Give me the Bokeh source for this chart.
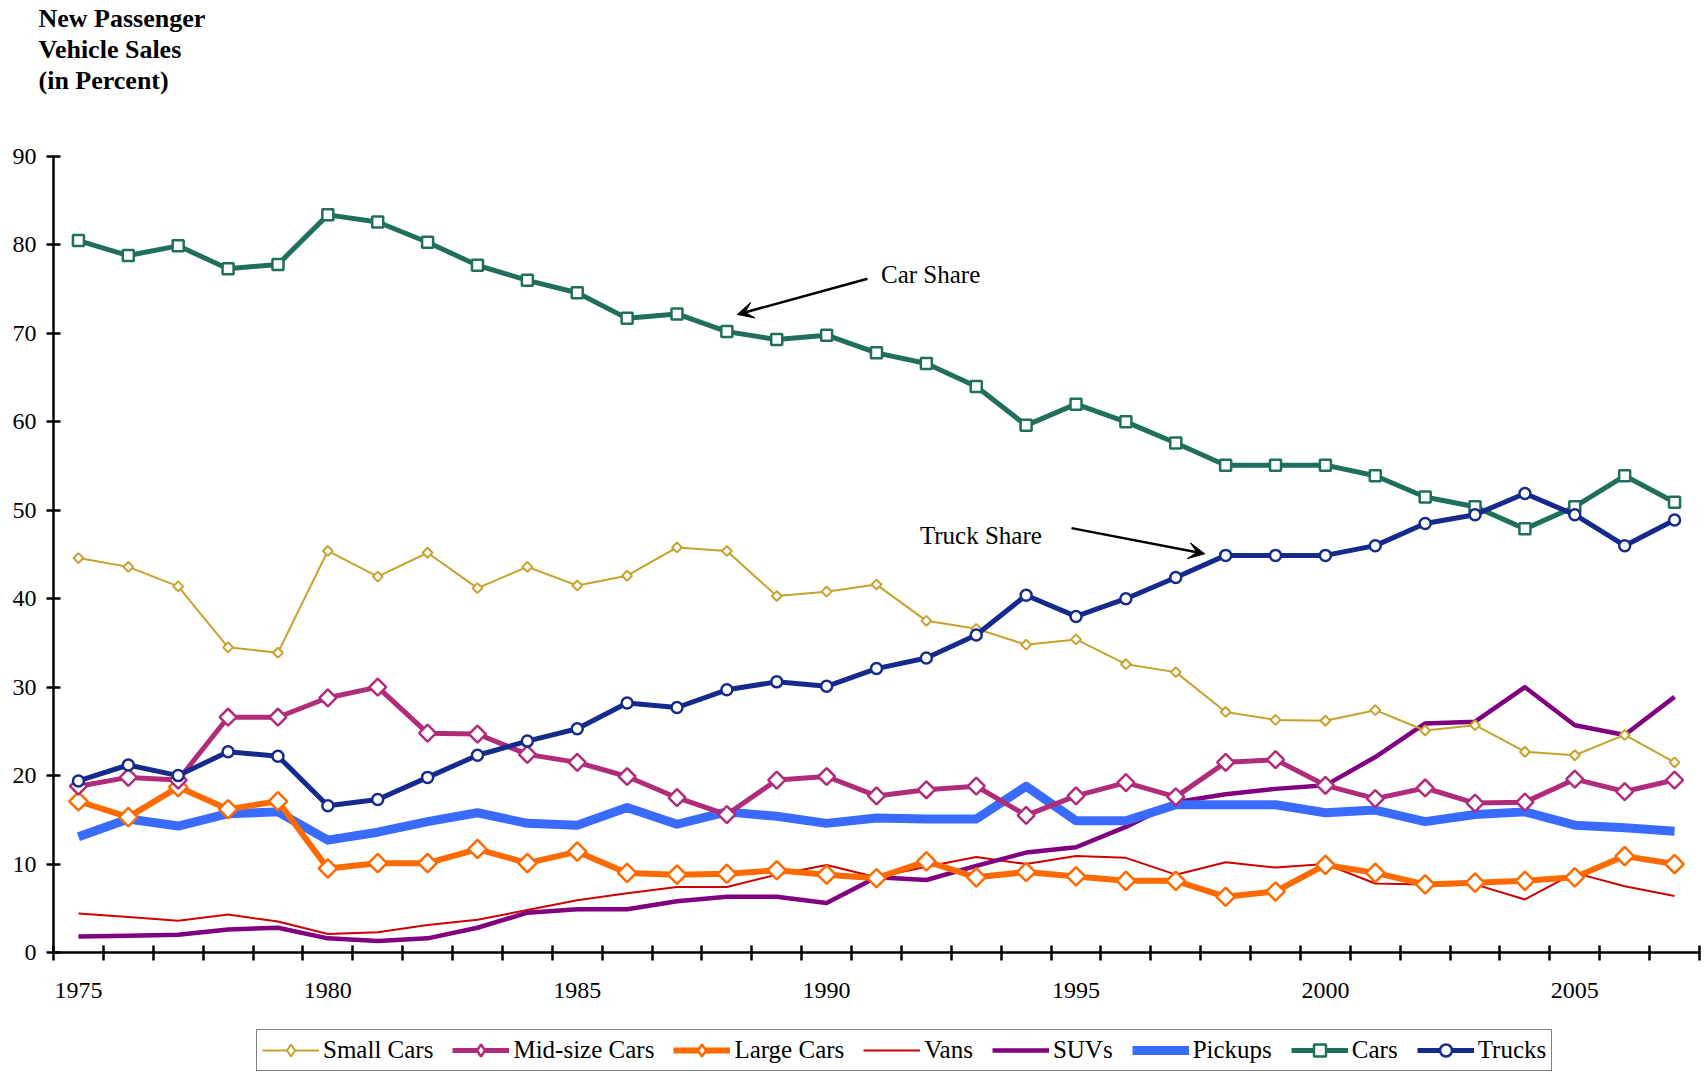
import numpy as np
from bokeh.plotting import figure
from bokeh.layouts import column
from bokeh.models import (FixedTicker, Legend, LegendItem, Label, Arrow, VeeHead, Range1d, Title)
from bokeh.embed import file_html
from bokeh.resources import INLINE

years = list(range(1975, 2008))

small_cars = [44.6, 43.6, 41.4, 34.5, 33.9, 45.4, 42.5, 45.2, 41.2, 43.6, 41.5, 42.6, 45.8, 45.4, 40.3, 40.8,
              41.6, 37.5, 36.6, 34.8, 35.4, 32.6, 31.7, 27.2, 26.3, 26.2, 27.4, 25.1, 25.7, 22.7, 22.3, 24.6, 21.5]
midsize_cars = [18.8, 19.8, 19.5, 26.6, 26.6, 28.8, 30.0, 24.8, 24.7, 22.4, 21.5, 19.9, 17.5, 15.6, 19.5, 19.9,
                17.7, 18.4, 18.8, 15.5, 17.7, 19.2, 17.6, 21.5, 21.8, 18.9, 17.4, 18.6, 16.9, 17.0, 19.6, 18.2, 19.5]
large_cars = [17.1, 15.3, 18.7, 16.2, 17.1, 9.5, 10.1, 10.1, 11.7, 10.1, 11.4, 9.0, 8.8, 8.9, 9.3, 8.8,
              8.4, 10.3, 8.5, 9.1, 8.6, 8.1, 8.1, 6.3, 6.9, 9.9, 9.0, 7.7, 7.9, 8.1, 8.5, 10.9, 10.0]
vans = [4.4, 4.0, 3.6, 4.3, 3.5, 2.1, 2.3, 3.1, 3.7, 4.8, 5.9, 6.7, 7.4, 7.4, 8.8, 9.9,
        8.5, 9.7, 10.8, 10.0, 10.9, 10.7, 8.8, 10.2, 9.6, 10.0, 7.8, 7.7, 7.7, 6.0, 9.0, 7.5, 6.4]
suvs = [1.8, 1.9, 2.0, 2.6, 2.8, 1.6, 1.3, 1.6, 2.8, 4.5, 4.9, 4.9, 5.8, 6.3, 6.3, 5.6,
        8.5, 8.2, 9.8, 11.3, 11.9, 14.2, 17.0, 17.9, 18.5, 18.9, 22.1, 25.9, 26.1, 30.0, 25.7, 24.6, 28.9]
pickups = [13.1, 15.1, 14.3, 15.7, 15.9, 12.7, 13.6, 14.8, 15.8, 14.6, 14.4, 16.4, 14.5, 15.9, 15.4, 14.6,
           15.2, 15.1, 15.1, 18.8, 14.9, 14.9, 16.7, 16.7, 16.7, 15.8, 16.1, 14.8, 15.6, 15.9, 14.4, 14.1, 13.7]
cars = [80.5, 78.8, 79.9, 77.3, 77.8, 83.4, 82.6, 80.3, 77.7, 76.0, 74.6, 71.7, 72.2, 70.2, 69.3, 69.8,
        67.8, 66.6, 64.0, 59.6, 62.0, 60.0, 57.6, 55.1, 55.1, 55.1, 53.9, 51.5, 50.4, 47.9, 50.4, 53.9, 50.9]
trucks = [19.4, 21.2, 20.0, 22.7, 22.2, 16.6, 17.3, 19.8, 22.3, 23.9, 25.3, 28.2, 27.7, 29.7, 30.6, 30.1,
          32.1, 33.3, 35.9, 40.4, 38.0, 40.0, 42.4, 44.9, 44.9, 44.9, 46.0, 48.5, 49.5, 51.9, 49.5, 46.0, 48.9]

label_years = [1975, 1980, 1985, 1990, 1995, 2000, 2005]
y_ticks = [0, 10, 20, 30, 40, 50, 60, 70, 80, 90]
title_text = "New Passenger\nVehicle Sales\n(in Percent)"

SERIF = "Liberation Serif"

p = figure(width=1707, height=1025, output_backend="svg", toolbar_location=None, title=None,
           x_range=Range1d(1974.5, 2007.5), y_range=Range1d(0, 90),
           min_border_left=53, min_border_right=8, min_border_top=156, min_border_bottom=73)
p.outline_line_color = None
p.xgrid.visible = False
p.ygrid.visible = False

# spacer between title block and plot area, then the three-line title
p.add_layout(Title(text="\u00a0", text_font_size="1px", standoff=56, text_color="white"), "above")
p.add_layout(Title(text=title_text, align="left", offset=-15, standoff=4,
                   text_font=SERIF, text_font_size="26px", text_font_style="bold",
                   text_color="black", text_line_height=1.07), "above")

xa = p.xaxis[0]
xa.ticker = FixedTicker(ticks=label_years, minor_ticks=[y - 0.5 for y in years] + [years[-1] + 0.5])
xa.axis_line_width = 2.5
xa.axis_line_color = "black"
xa.major_tick_line_color = None
xa.major_tick_in = 0
xa.major_tick_out = 0
xa.minor_tick_line_color = "black"
xa.minor_tick_line_width = 2.5
xa.minor_tick_in = 7
xa.minor_tick_out = 8
xa.major_label_standoff = 22
xa.major_label_text_font = SERIF
xa.major_label_text_font_size = "24px"
xa.major_label_text_color = "black"

ya = p.yaxis[0]
ya.ticker = FixedTicker(ticks=y_ticks)
ya.axis_line_width = 2.5
ya.axis_line_color = "black"
ya.major_tick_line_color = "black"
ya.major_tick_line_width = 2.5
ya.major_tick_in = 7
ya.major_tick_out = 7
ya.minor_tick_line_color = None
ya.major_label_standoff = 10
ya.major_label_text_font = SERIF
ya.major_label_text_font_size = "24px"
ya.major_label_text_color = "black"

DIAMOND = np.pi / 4

series = [
    # name, values, color, line width, marker, size, angle, legend marker
    ("Vans", vans, "#CC0000", 2, None, 0, 0, None),
    ("SUVs", suvs, "#800080", 4.5, None, 0, 0, None),
    ("Pickups", pickups, "#3A6BFF", 9, None, 0, 0, None),
    ("Large Cars", large_cars, "#FF6A00", 6, "square", 13, DIAMOND, "diamond"),
    ("Mid-size Cars", midsize_cars, "#B02C7A", 5, "square", 12, DIAMOND, "diamond"),
    ("Small Cars", small_cars, "#C8A02C", 2, "square", 7, DIAMOND, "diamond"),
    ("Cars", cars, "#1F6F5C", 5, "square", 11, 0, "square"),
    ("Trucks", trucks, "#142A8C", 5, "circle", 11, 0, "circle"),
]

# legend strip below the chart (its ranges keep the sample series out of view)
p2 = figure(width=1707, height=46, output_backend="svg", toolbar_location=None, title=None,
            x_range=Range1d(0, 1), y_range=Range1d(0, 1), min_border=0)
p2.outline_line_color = None
p2.xgrid.visible = False
p2.ygrid.visible = False
p2.xaxis.visible = False
p2.yaxis.visible = False

legend_renderers = {}
for name, vals, color, lw, marker, size, angle, lmarker in series:
    p.line(years, vals, line_color=color, line_width=lw, line_join="round")
    if marker:
        p.scatter(years, vals, marker=marker, size=size, angle=angle,
                  fill_color="white", line_color=color, line_width=2.5 if lw > 2 else 2)
    rs = [p2.line(years, vals, line_color=color, line_width=lw)]
    if lmarker:
        rs.append(p2.scatter(years, vals, marker=lmarker, size=size, fill_color="white",
                             line_color=color, line_width=2.5 if lw > 2 else 2))
    legend_renderers[name] = rs

legend_order = ["Small Cars", "Mid-size Cars", "Large Cars", "Vans", "SUVs", "Pickups", "Cars", "Trucks"]
legend = Legend(items=[LegendItem(label=n, renderers=legend_renderers[n]) for n in legend_order],
                orientation="horizontal", location=(203, 0),
                border_line_color="black", border_line_width=1.5,
                padding=5, spacing=19, glyph_width=57, glyph_height=30, label_standoff=4,
                label_text_font=SERIF, label_text_font_size="25px", label_text_color="black",
                background_fill_alpha=1.0)
p2.add_layout(legend, "center")

p.add_layout(Label(x=1991.09, y=76.63, text="Car Share", text_font=SERIF, text_font_size="25px",
                   text_baseline="middle", text_color="black"))
p.add_layout(Label(x=1991.87, y=47.1, text="Truck Share", text_font=SERIF, text_font_size="25px",
                   text_baseline="middle", text_color="black"))

p.add_layout(Arrow(x_start=1990.82, y_start=76.18, x_end=1988.21, y_end=72.14, line_width=2.5,
                   line_color="black", end=VeeHead(size=16, fill_color="black", line_color="black")))
p.add_layout(Arrow(x_start=1994.91, y_start=47.98, x_end=1997.58, y_end=45.08, line_width=2.5,
                   line_color="black", end=VeeHead(size=16, fill_color="black", line_color="black")))

layout = column(p, p2, spacing=0)
open("out.html", "w").write(file_html(layout, INLINE))
